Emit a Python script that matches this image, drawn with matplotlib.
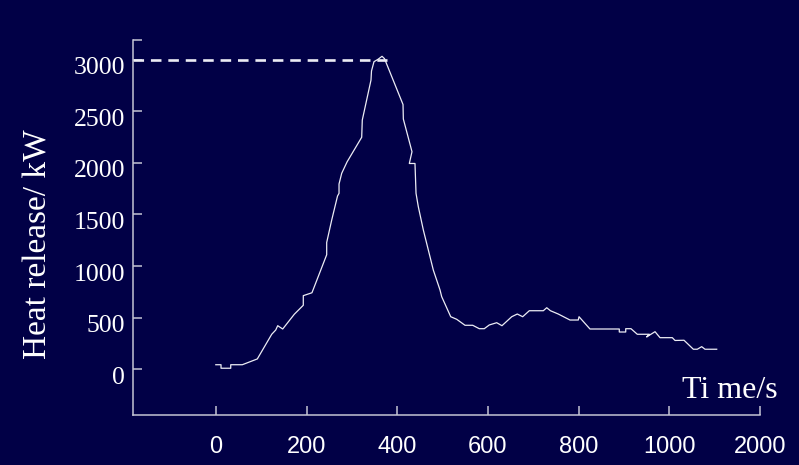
import matplotlib
matplotlib.use("Agg")
import matplotlib.pyplot as plt
import matplotlib.transforms as mtransforms

# heat release curve
time_s = [0, 11.5, 11.5, 32.9, 32.9, 58.4, 91.5, 123.3, 132.1, 136.5, 147.5,
          173.1, 192.9, 192.9, 212, 244.5, 244.5, 255.6, 268.4, 271.7, 271.7,
          277.6, 289.5, 321.7, 323, 342.2, 343.3, 348.8, 357.7, 366.5, 372,
          412.8, 413.5, 432.6, 426.7, 439.2, 441.5, 446.5, 457.6, 472.3, 479.6,
          494.4, 498.1, 518, 531.2, 549.5, 566.5, 581, 592, 603, 619.4, 631,
          652.5, 664.8, 676.7, 691.3, 722.2, 729.7, 737.9, 755.2, 781, 799.3,
          800.9, 825.1, 889.7, 889.7, 903.9, 903.9, 915.5, 929.4, 955.9, 950,
          968.5, 979.5, 1006.6, 1012.6, 1032.4, 1053, 1061.7, 1071.4, 1078.7,
          1104.5]
heat_kw = [45, 45, 11, 11, 45, 45, 101, 340, 381, 423, 391,
           534, 621, 714, 742, 1110, 1229, 1447, 1679, 1705, 1795,
           1899, 2010, 2248, 2415, 2802, 2890, 2980, 3003, 3032, 3009,
           2565, 2425, 2108, 1994, 1994, 1705, 1576, 1350, 1091, 962,
           769, 704, 510, 485, 427, 427, 394, 394, 430, 452, 423,
           510, 536, 510, 568, 568, 597, 568, 536, 478, 478,
           510, 391, 391, 362, 362, 394, 394, 340, 340, 314,
           365, 307, 307, 280, 282, 195, 195, 220, 195,
           195]

peak_level = 3000
peak_end = 377.5

x_ticks = [0, 200, 400, 600, 800, 1000, 1200]
x_labels = ["0", "200", "400", "600", "800", "1000", "2000"]
y_ticks = [0, 500, 1000, 1500, 2000, 2500, 3000]
y_labels = ["0", "500", "1000", "1500", "2000", "2500", "3000"]

bg = "#010046"
axis_col = "#c4c4d4"

fig = plt.figure(figsize=(7.99, 4.65), dpi=100, facecolor=bg)
ax = fig.add_axes([0.1668, 0.1075, 0.9512 - 0.1668, 0.914 - 0.1075])
ax.set_facecolor(bg)

xmin, xmax = -182, 1200
ymin, ymax = -442, 3190
ax.set_xlim(xmin, xmax)
ax.set_ylim(ymin, ymax)

ax.plot(time_s, heat_kw, color="#ececf4", lw=0.9)
ax.plot([xmin, peak_end], [peak_level, peak_level], color="#ececf4",
        lw=1.9, dashes=(4, 2.6))

for s in ["top", "right"]:
    ax.spines[s].set_visible(False)
for s in ["left", "bottom"]:
    ax.spines[s].set_color(axis_col)
    ax.spines[s].set_linewidth(1.1)

ax.set_xticks(x_ticks)
ax.set_xticklabels(x_labels, family="Liberation Sans", fontsize=17, color="white")
ax.set_yticks(y_ticks + [ymax])
ax.set_yticklabels(y_labels + [""], family="Liberation Serif", fontsize=18.5,
                   color="white")
ax.tick_params(axis="x", direction="in", length=6.5, width=1.1,
               color=axis_col, pad=15)
ax.tick_params(axis="y", direction="in", length=6.5, width=1.1,
               color=axis_col, pad=6)

# y labels sit a bit below their ticks in the original
shift = mtransforms.ScaledTranslation(0, -6 / 100, fig.dpi_scale_trans)
for lab in ax.get_yticklabels():
    lab.set_transform(lab.get_transform() + shift)

fig.text(38 / 799, 1 - 244 / 465, "Heat release/ kW", rotation=90,
         family="Liberation Serif", fontsize=24, color="white",
         ha="center", va="center")
fig.text(778 / 799, 1 - 398 / 465, "Ti me/s", family="Liberation Serif",
         fontsize=23, color="white", ha="right", va="baseline")

fig.savefig("out.png", dpi=100, facecolor=bg)
